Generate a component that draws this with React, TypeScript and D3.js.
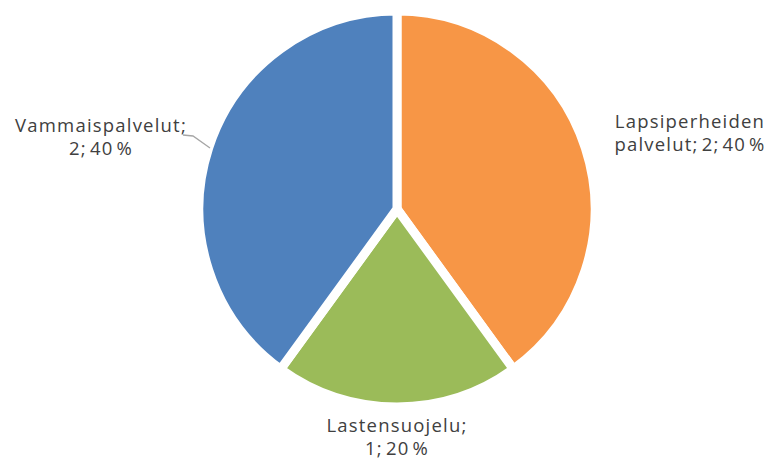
import React from "react";
import * as d3 from "d3";

const categories = ["Lapsiperheiden palvelut", "Lastensuojelu", "Vammaispalvelut"];
const values = [2, 1, 2];
const percents = ["40 %", "20 %", "40 %"];
const colors = ["#F79646", "#9BBB59", "#4F81BD"];
const labelLines = [
  ["Lapsiperheiden", "palvelut; 2; 40 %"],
  ["Lastensuojelu;", "1; 20 %"],
  ["Vammaispalvelut;", "2; 40 %"],
];

const W = 771;
const H = 458;
const cx = 397;
const cy = 209;
const R = 198;

export default function App() {
  const pie = d3.pie<number>().sort(null).value((d) => d);
  const arcs = pie(values);
  const arc = d3.arc<d3.PieArcDatum<number>>().innerRadius(0).outerRadius(R);
  const labelPos = [
    { x: 690, y: 128 },
    { x: 397, y: 432 },
    { x: 101, y: 132 },
  ];
  const lineH = 22.5;
  return (
    <svg width={W} height={H} style={{ position: "absolute", left: 0, top: 0 }}>
      <rect width={W} height={H} fill="#fff" />
      <g transform={`translate(${cx},${cy})`}>
        {arcs.map((a, i) => (
          <path key={categories[i]} d={arc(a) || ""} fill={colors[i]} stroke="#fff" strokeWidth={9} strokeLinejoin="miter" />
        ))}
      </g>
      <polyline points="183,135 193,136 210,148" fill="none" stroke="#a6a6a6" strokeWidth={1.3} />
      {labelLines.map((lines, i) => (
        <text key={i} textAnchor="middle" fontFamily="Open Sans" fontSize={18.5} letterSpacing={1.2} wordSpacing={-3} fill="#404040">
          {lines.map((l, j) => (
            <tspan key={j} x={labelPos[i].x} y={labelPos[i].y + j * lineH}>{l}</tspan>
          ))}
        </text>
      ))}
    </svg>
  );
}
